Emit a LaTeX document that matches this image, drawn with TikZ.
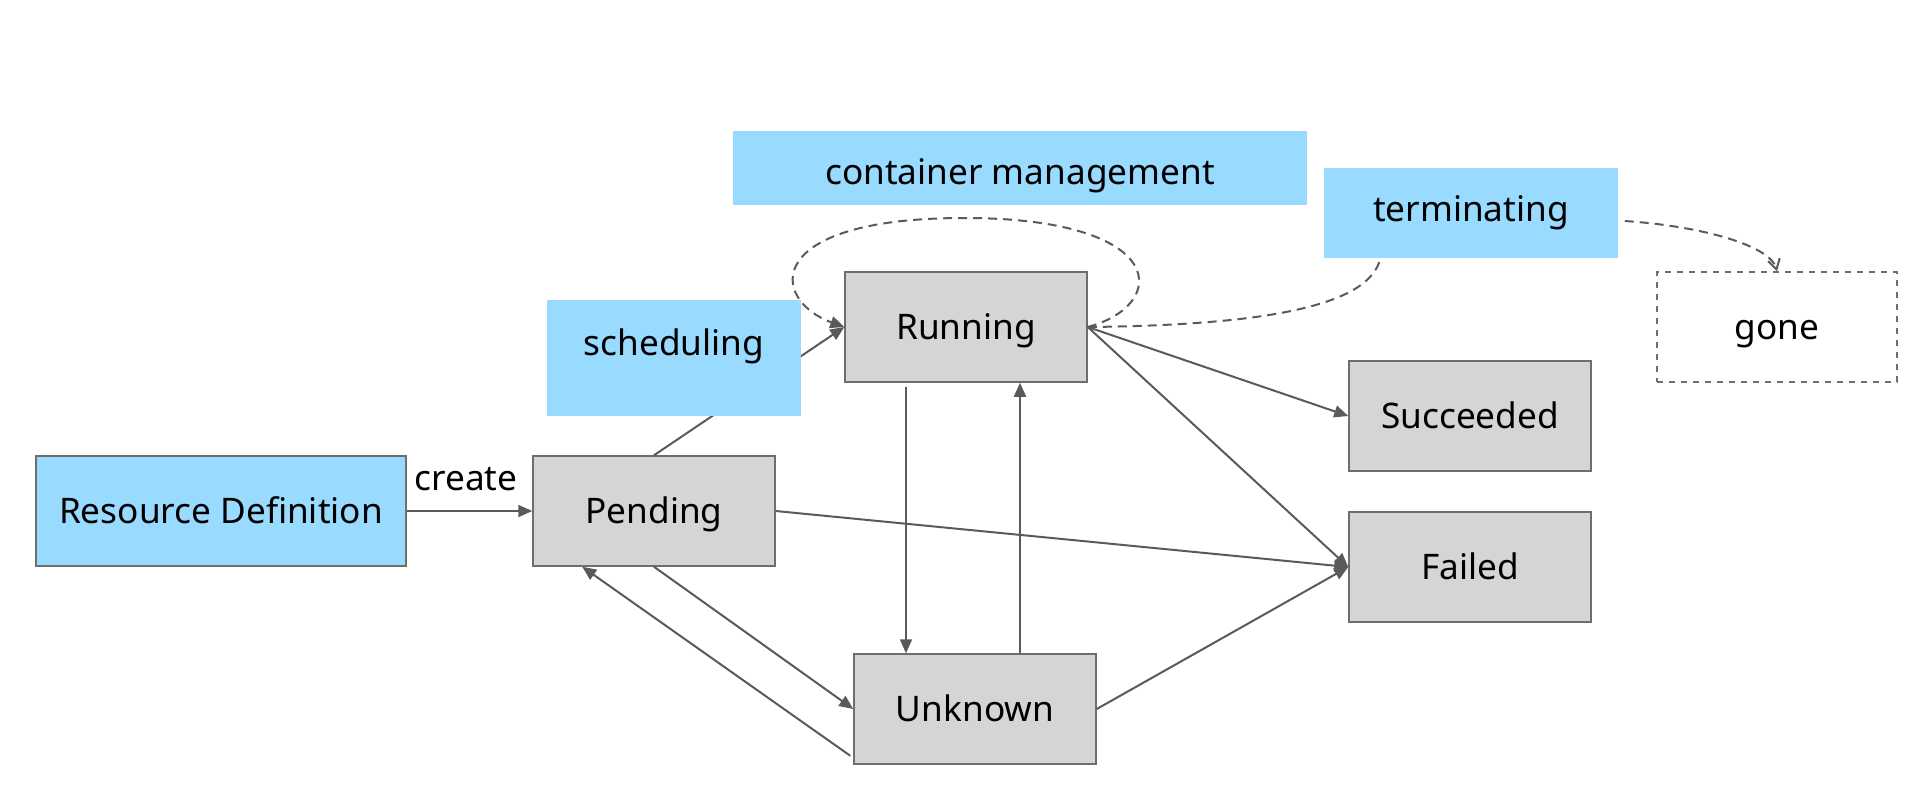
\documentclass[tikz,border=0pt]{standalone}
\usepackage{fontspec}
\setmainfont{Noto Sans}
\usetikzlibrary{arrows.meta}

\definecolor{skyfill}{RGB}{153,218,255}
\definecolor{stategray}{RGB}{213,213,213}
\definecolor{edgegray}{RGB}{90,90,90}
\definecolor{boxline}{RGB}{110,110,110}

\tikzset{every picture/.style={line width=0.75pt}}
\tikzset{
  every node/.style={font=\fontsize{17.6pt}{20pt}\selectfont, text=black, text height=12pt, text depth=0pt},
  statebox/.style={draw=boxline, fill=stategray, minimum width=121pt, minimum height=55pt, inner sep=0pt},
  bluebox/.style={fill=skyfill, inner sep=0pt},
  goal/.style={draw=boxline, dashed, fill=white, minimum width=120pt, minimum height=55pt, inner sep=0pt},
  arr/.style={draw=edgegray, line width=1pt, -{Triangle[length=7pt,width=6pt]}},
  dasharr/.style={draw=edgegray, line width=1pt, dash pattern=on 4.5pt off 3pt}
}

\begin{document}
\begin{tikzpicture}[x=0.5pt,y=0.5pt,yscale=-1,xscale=1]
\path[use as bounding box] (0,0) rectangle (1923,793);

% Nodes
\node[bluebox, draw=boxline, minimum width=185pt, minimum height=55pt] (resdef) at (221,511) {Resource Definition};
\node[statebox] (pending) at (654,511) {Pending};
\node[statebox] (running) at (966,327) {Running};
\node[statebox] (unknown) at (975,709) {Unknown};
\node[statebox] (succeeded) at (1470,416) {Succeeded};
\node[statebox] (failed) at (1470,567) {Failed};
\node[goal] (gone) at (1777,327) {gone};
\node[bluebox, minimum width=287pt, minimum height=37pt, text height=16pt] (contmgmt) at (1020,168) {container management};
\node[bluebox, minimum width=147pt, minimum height=45pt, text depth=3.3pt] (terminating) at (1471,213) {terminating};
% Text Node
\node (create) at (466,478) {create};

% Straight Lines
\draw[arr] (resdef.east) -- (pending.west);
\draw[arr] (pending.north) -- (running.west);
\draw[arr] ([xshift=-30pt,yshift=2pt]running.south) -- ([xshift=-30pt]running.south |- unknown.north);
\draw[arr] ([xshift=22.5pt]unknown.north) -- ([xshift=22.5pt]unknown.north |- running.south);
\draw[arr] (pending.south) -- (unknown.west);
\draw[arr] ([shift={(-1.5pt,-4.5pt)}]unknown.south west) -- ([xshift=25pt]pending.south west);
\draw[arr] (pending.east) -- (failed.west);
\draw[arr] (running.east) -- (succeeded.west);
\draw[arr] (running.east) -- (failed.west);
\draw[arr] (unknown.east) -- (failed.west);

% Dashed curves
\draw[dasharr, -{Triangle[length=7pt,width=6pt]}] (running.east) .. controls (1170,305) and (1170,218) .. (964,218) .. controls (760,218) and (770,300) .. (running.west);
\draw[dasharr] (running.east) .. controls (1290,325) and (1370,300) .. ([xshift=28.5pt]terminating.south west);
\draw[dasharr, -{Straight Barb[length=5pt,width=6pt]}] ([shift={(3pt,4pt)}]terminating.east) .. controls (1700,226) and (1770,245) .. (gone.north);

% scheduling box on top of the line
\node[bluebox, minimum width=127pt, minimum height=58pt, text depth=15pt] (scheduling) at (674,358) {scheduling};

\end{tikzpicture}
\end{document}
